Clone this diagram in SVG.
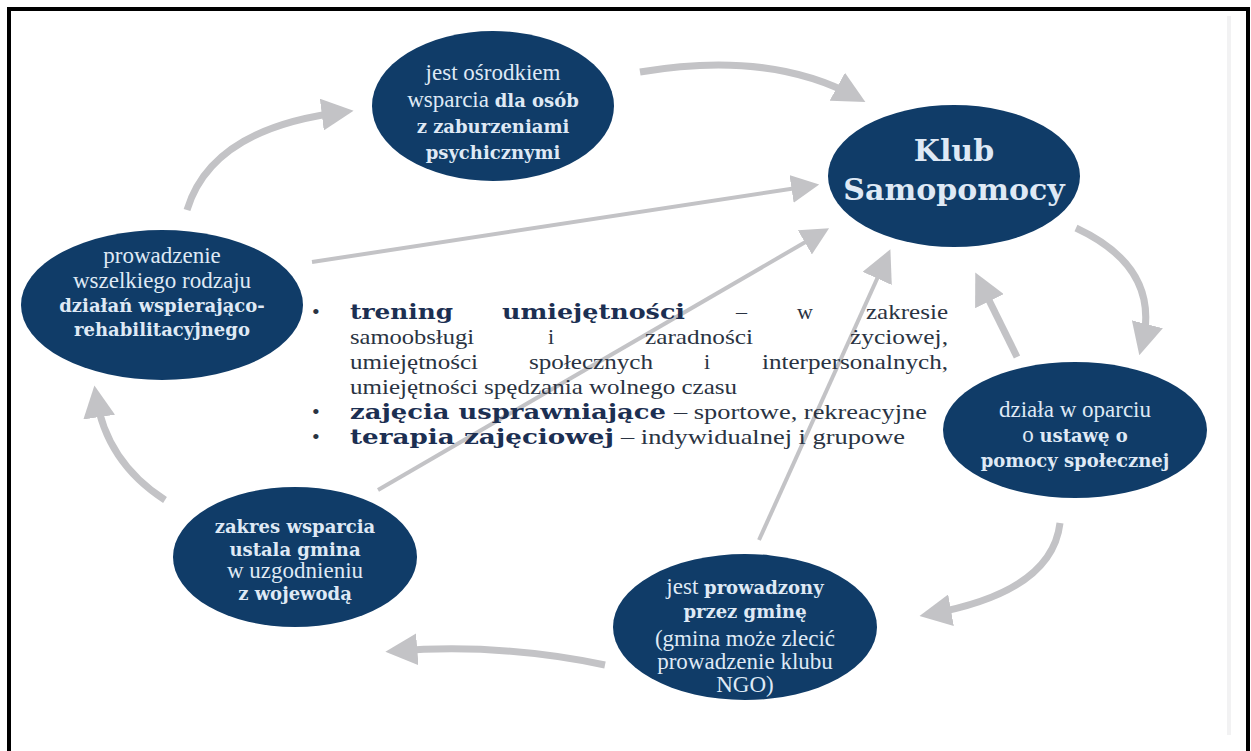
<svg xmlns="http://www.w3.org/2000/svg" width="1251" height="751" viewBox="0 0 1251 751">
<style>
.el{fill:#103c68}
.t{font-family:"Liberation Serif","DejaVu Serif",serif;font-size:23px;fill:#dfe9f5;text-anchor:middle}
.b{font-family:"DejaVu Serif",serif;font-weight:bold;font-size:18px;fill:#dfe9f5}
.k{font-family:"DejaVu Serif",serif;font-weight:bold;font-size:30px;fill:#dfe9f5;text-anchor:middle}
.c{fill:none;stroke:#c3c3c6;stroke-width:7;stroke-linecap:butt}
.s{fill:none;stroke:#c3c3c6;stroke-width:4}
.m{font-family:"Liberation Serif","DejaVu Serif",serif;font-size:22px;fill:#2a3342}
.mb{font-family:"DejaVu Serif",serif;font-weight:bold;font-size:21px;fill:#1c2f52}
</style>
<defs>
<marker id="ah" viewBox="0 0 30 30" refX="20" refY="15" markerWidth="32" markerHeight="32" markerUnits="userSpaceOnUse" orient="auto"><path d="M0,0 L30,15 L0,30 z" fill="#c3c3c6"/></marker>
<marker id="ahs" viewBox="0 0 30 30" refX="20" refY="15" markerWidth="28" markerHeight="28" markerUnits="userSpaceOnUse" orient="auto"><path d="M0,0 L30,15 L0,30 z" fill="#c3c3c6"/></marker>
</defs>
<rect x="0" y="0" width="1251" height="751" fill="#ffffff"/>
<rect x="9" y="9" width="1239" height="800" fill="none" stroke="#000" stroke-width="4"/>
<line x1="1229" y1="16" x2="1229" y2="735" stroke="#f2f2f3" stroke-width="4"/>
<g id="connectors">
<path class="c" d="M640 72 Q770 50 856 97" marker-end="url(#ah)"/>
<path class="c" d="M187 210 Q212 128 343 112" marker-end="url(#ah)"/>
<path class="s" d="M312 262 L810 186" marker-end="url(#ahs)"/>
<path class="c" d="M1076 228 Q1162 268 1142 345" marker-end="url(#ah)"/>
<path class="c" d="M1017 357 L980 282" marker-end="url(#ah)"/>
<path class="c" d="M1060 523 Q1052 592 930 614" marker-end="url(#ah)"/>
<path class="c" d="M605 665 Q500 643 396 651" marker-end="url(#ah)"/>
<path class="c" d="M165 500 Q106 462 96 396" marker-end="url(#ah)"/>
<path class="s" d="M759 540 L886 259" marker-end="url(#ah)"/>
<path class="s" d="M378 490 L821 233" marker-end="url(#ahs)"/>
</g>
<g id="n-top">
<ellipse class="el" cx="493" cy="106" rx="121" ry="75"/>
<text class="t" x="493" y="80">jest ośrodkiem</text>
<text class="t" x="493" y="107">wsparcia <tspan class="b">dla osób</tspan></text>
<text class="t" x="493" y="133"><tspan class="b">z zaburzeniami</tspan></text>
<text class="t" x="493" y="159"><tspan class="b">psychicznymi</tspan></text>
</g>
<g id="n-klub">
<ellipse class="el" cx="954" cy="176" rx="126" ry="71"/>
<text class="k" x="954" y="161">Klub</text>
<text class="k" x="954" y="200">Samopomocy</text>
</g>
<g id="n-left">
<ellipse class="el" cx="162" cy="305" rx="141" ry="75"/>
<text class="t" x="162" y="263">prowadzenie</text>
<text class="t" x="162" y="288">wszelkiego rodzaju</text>
<text class="t" x="162" y="312"><tspan class="b">działań wspierająco-</tspan></text>
<text class="t" x="162" y="336"><tspan class="b">rehabilitacyjnego</tspan></text>
</g>
<g id="n-right">
<ellipse class="el" cx="1075" cy="430" rx="132" ry="68"/>
<text class="t" x="1075" y="417">działa w oparciu</text>
<text class="t" x="1075" y="442">o <tspan class="b">ustawę o</tspan></text>
<text class="t" x="1075" y="467"><tspan class="b">pomocy społecznej</tspan></text>
</g>
<g id="n-bottom">
<ellipse class="el" cx="745" cy="627" rx="132" ry="73"/>
<text class="t" x="745" y="594">jest <tspan class="b">prowadzony</tspan></text>
<text class="t" x="745" y="618"><tspan class="b">przez gminę</tspan></text>
<text class="t" x="745" y="646">(gmina może zlecić</text>
<text class="t" x="745" y="669">prowadzenie klubu</text>
<text class="t" x="745" y="692">NGO)</text>
</g>
<g id="n-bottomleft">
<ellipse class="el" cx="295" cy="557" rx="122" ry="70"/>
<text class="t" x="295" y="533"><tspan class="b">zakres wsparcia</tspan></text>
<text class="t" x="295" y="556"><tspan class="b">ustala gmina</tspan></text>
<text class="t" x="295" y="578">w uzgodnieniu</text>
<text class="t" x="295" y="600"><tspan class="b">z wojewodą</tspan></text>
</g>
<g id="list">
<text class="m" x="312" y="319">•</text>
<text class="m" x="312" y="419">•</text>
<text class="m" x="312" y="444">•</text>
<text class="mb" x="350" y="319" textLength="103" lengthAdjust="spacingAndGlyphs">trening</text>
<text class="mb" x="502" y="319" textLength="183" lengthAdjust="spacingAndGlyphs">umiejętności</text>
<text class="m" x="736" y="319">–</text>
<text class="m" x="797" y="319">w</text>
<text class="m" x="948" y="319" text-anchor="end" textLength="82" lengthAdjust="spacingAndGlyphs">zakresie</text>
<text class="m" x="350" y="344" textLength="124" lengthAdjust="spacingAndGlyphs">samoobsługi</text>
<text class="m" x="548" y="344">i</text>
<text class="m" x="645" y="344" textLength="108" lengthAdjust="spacingAndGlyphs">zaradności</text>
<text class="m" x="948" y="344" text-anchor="end" textLength="98" lengthAdjust="spacingAndGlyphs">życiowej,</text>
<text class="m" x="350" y="369" textLength="128" lengthAdjust="spacingAndGlyphs">umiejętności</text>
<text class="m" x="529" y="369" textLength="124" lengthAdjust="spacingAndGlyphs">społecznych</text>
<text class="m" x="704" y="369">i</text>
<text class="m" x="948" y="369" text-anchor="end" textLength="186" lengthAdjust="spacingAndGlyphs">interpersonalnych,</text>
<text class="m" x="350" y="394" textLength="387" lengthAdjust="spacingAndGlyphs">umiejętności spędzania wolnego czasu</text>
<text class="mb" x="350" y="419" textLength="316" lengthAdjust="spacingAndGlyphs">zajęcia usprawniające</text>
<text class="m" x="674" y="419" textLength="253" lengthAdjust="spacingAndGlyphs">– sportowe, rekreacyjne</text>
<text class="mb" x="350" y="444" textLength="264" lengthAdjust="spacingAndGlyphs">terapia zajęciowej</text>
<text class="m" x="621" y="444" textLength="284" lengthAdjust="spacingAndGlyphs">– indywidualnej i grupowe</text>
</g>
</svg>
